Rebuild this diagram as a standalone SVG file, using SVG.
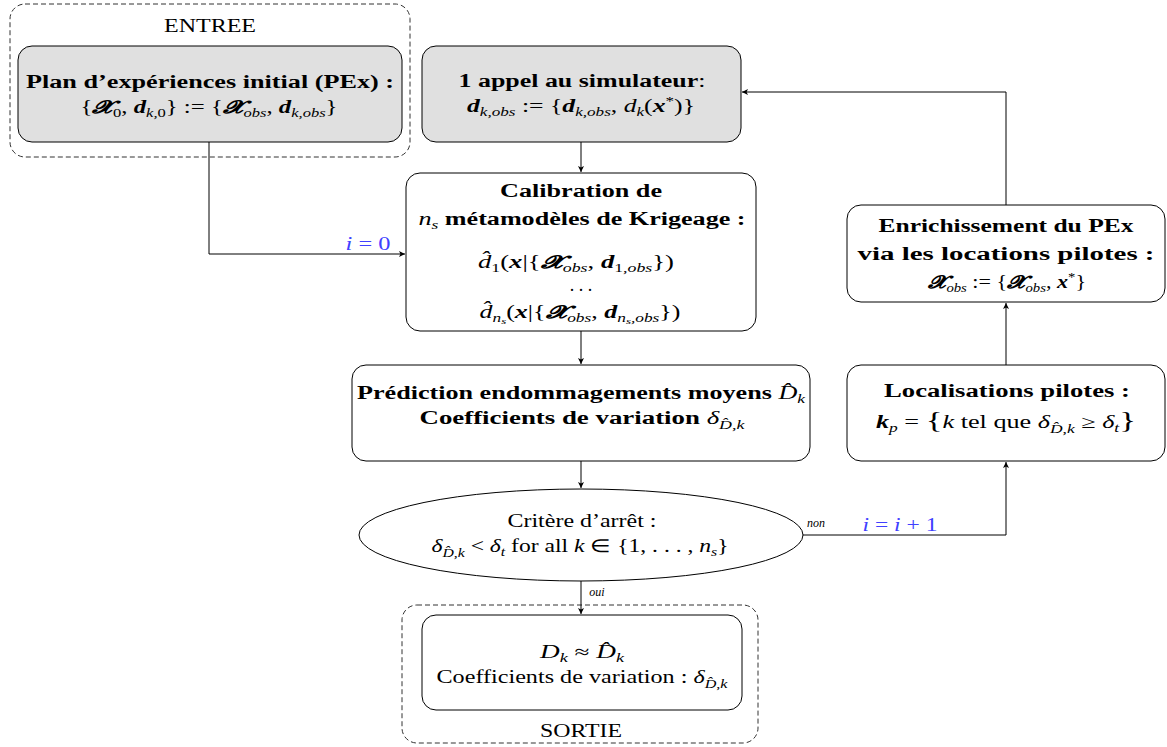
<svg xmlns="http://www.w3.org/2000/svg" width="1167" height="747" viewBox="0 0 1167 747">
<style>
.t{font-family:"Liberation Serif",serif;font-size:18px;text-anchor:middle;fill:#000}
.b{font-weight:bold}
.i{font-style:italic}
.bi{font-weight:bold;font-style:italic}
.s{font-size:12px}
.ss{font-size:9px}
.box{fill:#fff;stroke:#000;stroke-width:1}
.gbox{fill:#e0e0e0;stroke:#000;stroke-width:1}
.dash{fill:none;stroke:#333;stroke-width:1;stroke-dasharray:5 3}
.blue{fill:#4040ff}
.con{fill:none;stroke:#000;stroke-width:1}
</style>
<defs>
<marker id="ah" markerWidth="7" markerHeight="6" refX="6" refY="3" orient="auto" markerUnits="userSpaceOnUse">
<path d="M0,0 L6,3 L0,6 L1.5,3 z" fill="#000"/>
</marker>
</defs>

<g id="entree">
<rect class="dash" x="10" y="4" width="400" height="153" rx="15"/>
<text class="t" x="210" y="32" textLength="92" lengthAdjust="spacingAndGlyphs">ENTREE</text>
</g>

<g id="plan">
<rect class="gbox" x="18" y="46" width="384" height="96" rx="14"/>
<text class="t b" x="210" y="88" textLength="368" lengthAdjust="spacingAndGlyphs">Plan d’expériences initial (PEx) :</text>
<text class="t" x="209" y="113" textLength="257" lengthAdjust="spacingAndGlyphs">{<tspan class="bi">𝓧</tspan><tspan class="s" dy="4">0</tspan><tspan dy="-4">, </tspan><tspan class="bi">d</tspan><tspan class="s i" dy="4">k,</tspan><tspan class="s">0</tspan><tspan dy="-4">} := {</tspan><tspan class="bi">𝓧</tspan><tspan class="s i" dy="4">obs</tspan><tspan dy="-4">, </tspan><tspan class="bi">d</tspan><tspan class="s i" dy="4">k,obs</tspan><tspan dy="-4">}</tspan></text>
</g>

<g id="appel">
<rect class="gbox" x="422" y="46" width="319" height="96" rx="14"/>
<text class="t" x="582" y="87" textLength="247" lengthAdjust="spacingAndGlyphs"><tspan class="b">1 appel au simulateur</tspan>:</text>
<text class="t" x="581" y="112" textLength="228" lengthAdjust="spacingAndGlyphs"><tspan class="bi">d</tspan><tspan class="s i" dy="4">k,obs</tspan><tspan dy="-4"> := {</tspan><tspan class="bi">d</tspan><tspan class="s i" dy="4">k,obs</tspan><tspan dy="-4">, </tspan><tspan class="i">d</tspan><tspan class="s i" dy="4">k</tspan><tspan dy="-4">(</tspan><tspan class="bi">x</tspan><tspan class="s" dy="-7">*</tspan><tspan dy="7">)}</tspan></text>
</g>

<g id="calibration">
<rect class="box" x="406" y="173" width="350" height="158" rx="14"/>
<text class="t b" x="581" y="197" textLength="162" lengthAdjust="spacingAndGlyphs">Calibration de</text>
<text class="t" x="582" y="225" textLength="327" lengthAdjust="spacingAndGlyphs"><tspan class="i">n</tspan><tspan class="s i" dy="4">s</tspan><tspan class="b" dy="-4"> métamodèles de Krigeage :</tspan></text>
<text class="t" x="576" y="268" textLength="196" lengthAdjust="spacingAndGlyphs"><tspan class="i">d̂</tspan><tspan class="s" dy="4">1</tspan><tspan dy="-4">(</tspan><tspan class="bi">x</tspan><tspan>|{</tspan><tspan class="bi">𝓧</tspan><tspan class="s i" dy="4">obs</tspan><tspan dy="-4">, </tspan><tspan class="bi">d</tspan><tspan class="s" dy="4">1,</tspan><tspan class="s i">obs</tspan><tspan dy="-4">})</tspan></text>
<text class="t" x="581" y="291">. . .</text>
<text class="t" x="580" y="318" textLength="201" lengthAdjust="spacingAndGlyphs"><tspan class="i">d̂</tspan><tspan class="s i" dy="4">n</tspan><tspan class="ss i" dy="2">s</tspan><tspan dy="-6">(</tspan><tspan class="bi">x</tspan><tspan>|{</tspan><tspan class="bi">𝓧</tspan><tspan class="s i" dy="4">obs</tspan><tspan dy="-4">, </tspan><tspan class="bi">d</tspan><tspan class="s i" dy="4">n</tspan><tspan class="ss i" dy="2">s</tspan><tspan class="s i" dy="-2">,obs</tspan><tspan dy="-4">})</tspan></text>
</g>

<g id="prediction">
<rect class="box" x="352" y="365" width="458" height="96" rx="14"/>
<text class="t" x="581" y="399" textLength="448" lengthAdjust="spacingAndGlyphs"><tspan class="b">Prédiction endommagements moyens </tspan><tspan class="i">D̂</tspan><tspan class="s i" dy="4">k</tspan></text>
<text class="t" x="582" y="424" textLength="325" lengthAdjust="spacingAndGlyphs"><tspan class="b">Coefficients de variation </tspan><tspan class="i">δ</tspan><tspan class="s i" dy="5">D̂</tspan><tspan class="s">,</tspan><tspan class="s i">k</tspan></text>
</g>

<g id="critere">
<ellipse class="box" cx="581" cy="535" rx="222" ry="46"/>
<text class="t" x="582" y="527" textLength="149" lengthAdjust="spacingAndGlyphs">Critère d’arrêt :</text>
<text class="t" x="580" y="552" textLength="297" lengthAdjust="spacingAndGlyphs"><tspan class="i">δ</tspan><tspan class="s i" dy="5">D̂</tspan><tspan class="s">,</tspan><tspan class="s i">k</tspan><tspan dy="-5"> &lt; </tspan><tspan class="i">δ</tspan><tspan class="s i" dy="4">t</tspan><tspan dy="-4"> for all </tspan><tspan class="i">k</tspan><tspan> ∈ {1, . . . , </tspan><tspan class="i">n</tspan><tspan class="s i" dy="4">s</tspan><tspan dy="-4">}</tspan></text>
</g>

<g id="sortie">
<rect class="dash" x="402" y="605" width="356" height="138" rx="15"/>
<rect class="box" x="422" y="615" width="320" height="95" rx="14"/>
<text class="t" x="582" y="658" textLength="84" lengthAdjust="spacingAndGlyphs"><tspan class="i">D</tspan><tspan class="s i" dy="4">k</tspan><tspan dy="-4"> ≈ </tspan><tspan class="i">D̂</tspan><tspan class="s i" dy="4">k</tspan></text>
<text class="t" x="582" y="683" textLength="291" lengthAdjust="spacingAndGlyphs">Coefficients de variation : <tspan class="i">δ</tspan><tspan class="s i" dy="5">D̂</tspan><tspan class="s">,</tspan><tspan class="s i">k</tspan></text>
<text class="t" x="581" y="737" textLength="82" lengthAdjust="spacingAndGlyphs">SORTIE</text>
</g>

<g id="enrichissement">
<rect class="box" x="847" y="205" width="318" height="97" rx="14"/>
<text class="t b" x="1006" y="232" textLength="255" lengthAdjust="spacingAndGlyphs">Enrichissement du PEx</text>
<text class="t b" x="1006" y="260" textLength="297" lengthAdjust="spacingAndGlyphs">via les locations pilotes :</text>
<text class="t" x="1007" y="288" textLength="158" lengthAdjust="spacingAndGlyphs"><tspan class="bi">𝓧</tspan><tspan class="s i" dy="4">obs</tspan><tspan dy="-4"> := {</tspan><tspan class="bi">𝓧</tspan><tspan class="s i" dy="4">obs</tspan><tspan dy="-4">, </tspan><tspan class="bi">x</tspan><tspan class="s" dy="-7">*</tspan><tspan dy="7">}</tspan></text>
</g>

<g id="localisations">
<rect class="box" x="847" y="365" width="318" height="96" rx="14"/>
<text class="t b" x="1007" y="397" textLength="246" lengthAdjust="spacingAndGlyphs">Localisations pilotes :</text>
<text class="t" x="1006" y="428" textLength="260" lengthAdjust="spacingAndGlyphs"><tspan class="bi">k</tspan><tspan class="s i" dy="4">p</tspan><tspan dy="-4"> = </tspan><tspan style="font-size:24px">{</tspan><tspan class="i">k</tspan><tspan> tel que </tspan><tspan class="i">δ</tspan><tspan class="s i" dy="5">D̂</tspan><tspan class="s">,</tspan><tspan class="s i">k</tspan><tspan dy="-5"> ≥ </tspan><tspan class="i">δ</tspan><tspan class="s i" dy="4">t</tspan><tspan dy="-4" style="font-size:24px">}</tspan></text>
</g>

<g id="connectors">
<path class="con" d="M581 142 V172" marker-end="url(#ah)"/>
<path class="con" d="M209 142 V254 H405" marker-end="url(#ah)"/>
<path class="con" d="M581 331 V364" marker-end="url(#ah)"/>
<path class="con" d="M581 461 V488" marker-end="url(#ah)"/>
<path class="con" d="M581 581 V614" marker-end="url(#ah)"/>
<path class="con" d="M803 535 H1006 V462" marker-end="url(#ah)"/>
<path class="con" d="M1006 365 V303" marker-end="url(#ah)"/>
<path class="con" d="M1006 205 V92 H742" marker-end="url(#ah)"/>
<text class="t i blue" x="368" y="250" textLength="45" lengthAdjust="spacingAndGlyphs"><tspan>i</tspan><tspan style="font-style:normal"> = 0</tspan></text>
<text class="t i blue" x="900" y="531" textLength="75" lengthAdjust="spacingAndGlyphs"><tspan>i</tspan><tspan style="font-style:normal"> = </tspan><tspan>i</tspan><tspan style="font-style:normal"> + 1</tspan></text>
<text class="t i" x="816" y="527" style="font-size:12px">non</text>
<text class="t i" x="597" y="596" style="font-size:12px">oui</text>
</g>
</svg>
